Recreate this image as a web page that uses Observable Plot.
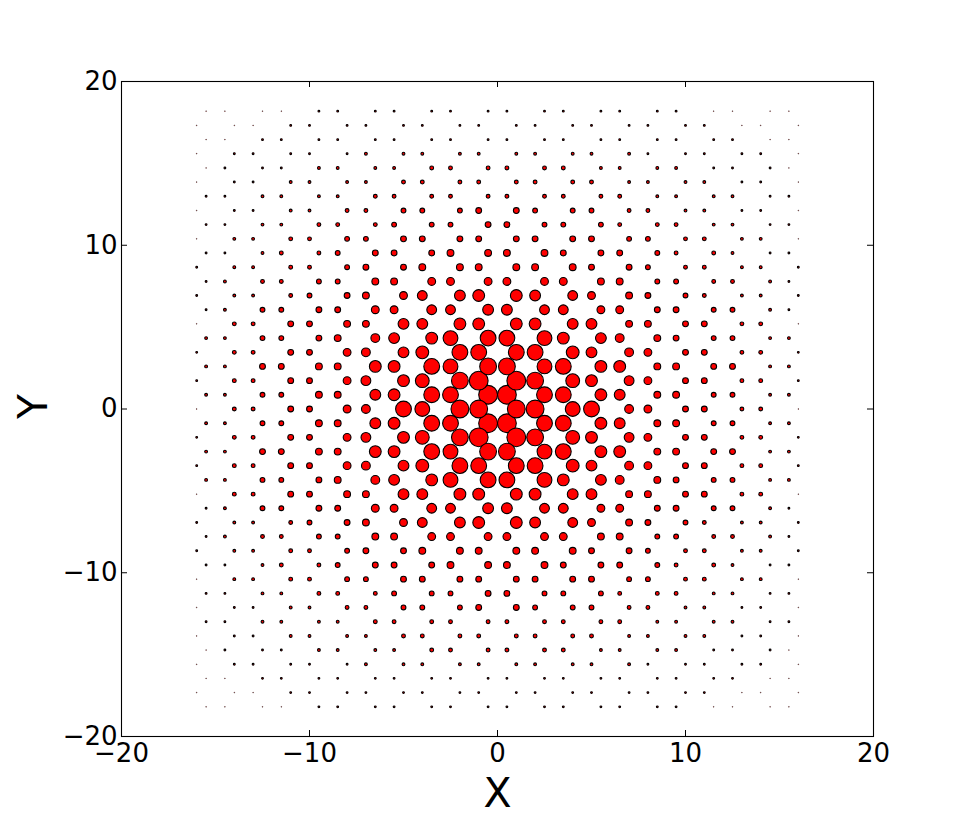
<!DOCTYPE html>
<html>
<head>
<meta charset="utf-8">
<script src="https://cdn.jsdelivr.net/npm/d3@7"></script>
<script src="https://cdn.jsdelivr.net/npm/@observablehq/plot@0.6"></script>
<style>
  html, body { margin: 0; padding: 0; background: #fff; }
  #chart svg { display: block; }
</style>
</head>
<body>
<div id="chart"></div>
<script>
// Honeycomb lattice (upper-right quadrant; the figure is mirror-symmetric in X and Y)
// x positions of sites in odd rows (type A) and even rows (type B)
const colA = [0.5, 2.5, 3.5, 5.5, 6.5, 8.5, 9.5, 11.5, 12.5, 14.5, 15.5];
const colB = [1, 2, 4, 5, 7, 8, 10, 11, 13, 14, 16];
// y position of each row (row 0 = the X axis)
const rowY = [0, 0.87, 1.73, 2.6, 3.46, 4.33, 5.2, 6.06, 6.93, 7.79, 8.66,
              9.53, 10.39, 11.26, 12.12, 12.99, 13.86, 14.72, 15.59, 16.45, 17.32, 18.19];
// marker diameters (px) read per row, per column
const diam = [
  [19, 19, 16, 17, 10, 9, 7, 7, 5, 5, 2],
  [20, 17, 17, 13, 12, 8, 8, 6, 6, 4, 4],
  [20, 18, 15, 13, 11, 9, 7, 7, 5, 5, 3],
  [18, 16, 17, 13, 13, 8, 8, 7, 7, 4, 4],
  [17, 17, 14, 12, 10, 9, 7, 7, 5, 5, 3],
  [17, 16, 13, 12, 10, 8, 7, 6, 6, 4, 4],
  [13, 13, 12, 12, 8, 8, 7, 7, 5, 5, 2],
  [12, 11, 11, 9, 9, 7, 7, 6, 6, 4, 3],
  [13, 12, 11, 9, 8, 7, 6, 5, 4, 4, 3],
  [9, 9, 9, 8, 8, 6, 6, 5, 5, 4, 3],
  [8, 8, 8, 7, 7, 6, 5, 5, 4, 4, 3],
  [8, 8, 7, 7, 7, 6, 5, 5, 4, 3, 3],
  [7, 7, 7, 7, 6, 6, 5, 5, 4, 4, 2],
  [7, 6, 6, 6, 5, 5, 5, 4, 4, 3, 3],
  [7, 6, 6, 6, 5, 5, 4, 4, 3, 3, 2],
  [5, 5, 5, 5, 5, 4, 4, 4, 4, 3, 3],
  [5, 5, 5, 5, 4, 4, 4, 4, 3, 3, 2],
  [5, 5, 5, 4, 4, 4, 4, 3, 3, 3, 2],
  [4, 4, 4, 4, 4, 3, 3, 3, 3, 3, 2],
  [3, 3, 3, 3, 3, 3, 3, 3, 3, 2, 2],
  [3, 3, 3, 3, 3, 3, 3, 3, 2, 2, 2],
  [3, 3, 3, 3, 3, 3, 3, 2, 2, 2, 2]
];
const ticks = [-20, -10, 0, 10, 20];
const xLabel = "X";
const yLabel = "Y";

// build the table of sites by mirroring the quadrant
const sites = [];
for (let k = 0; k < rowY.length; k++) {
  const cols = k % 2 === 0 ? colB : colA;
  const ySigns = k === 0 ? [1] : [1, -1];
  for (const sy of ySigns) {
    cols.forEach((cx, j) => {
      for (const sx of [1, -1]) {
        sites.push({x: sx * cx, y: sy * rowY[k], d: diam[k][j]});
      }
    });
  }
}

const W = 969, H = 818;
const mL = 121, mR = 96, mT = 81, mB = 82;
const innerW = W - mL - mR, innerH = H - mT - mB;
const tickLen = 6;
const font = "DejaVu Sans, sans-serif";

const chart = Plot.plot({
  width: W,
  height: H,
  marginLeft: mL,
  marginRight: mR,
  marginTop: mT,
  marginBottom: mB,
  style: {fontFamily: font, background: "white"},
  x: {domain: [-20, 20], axis: null},
  y: {domain: [-20, 20], axis: null},
  r: {type: "identity"},
  marks: [
    Plot.dot(sites, {
      x: "x", y: "y",
      r: d => Math.max((d.d - 1.2) / 2, 0.35),
      fill: "#ff0000",
      stroke: "black",
      strokeWidth: d => d.d <= 2 ? 0.8 : 1.1,
      strokeOpacity: d => d.d <= 2 ? 0.6 : 1
    }),
    Plot.frame({stroke: "black", strokeWidth: 1.1}),
    // inward ticks on all four sides
    Plot.ruleX(ticks, {x: d => d, insetTop: innerH - tickLen, stroke: "black"}),
    Plot.ruleX(ticks, {x: d => d, insetBottom: innerH - tickLen, stroke: "black"}),
    Plot.ruleY(ticks, {y: d => d, insetRight: innerW - tickLen, stroke: "black"}),
    Plot.ruleY(ticks, {y: d => d, insetLeft: innerW - tickLen, stroke: "black"}),
    Plot.axisX(ticks, {anchor: "bottom", tickSize: 0, tickPadding: 7, fontSize: 26, label: null, fill: "black"}),
    Plot.axisY(ticks, {anchor: "left", tickSize: 0, tickPadding: 4, fontSize: 26, label: null, fill: "black"}),
    Plot.text([xLabel], {frameAnchor: "bottom", dy: 57, text: d => d, fontSize: 41, fill: "black", lineAnchor: "middle"}),
    Plot.text([yLabel], {frameAnchor: "left", dx: -88, dy: 10, text: d => d, fontSize: 41, fill: "black", rotate: -90, lineAnchor: "middle"})
  ]
});
document.getElementById("chart").appendChild(chart);
</script>
</body>
</html>
